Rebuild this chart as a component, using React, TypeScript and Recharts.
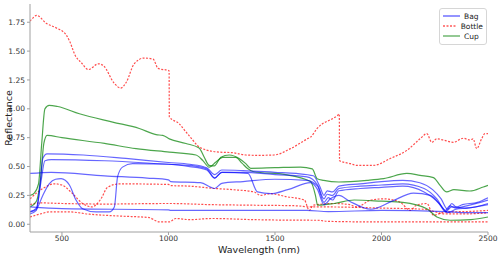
import { LineChart, Line, XAxis, YAxis } from "recharts";

type Pt = [number, number];

// wavelength (nm), reflectance
const bag1: Pt[] = [
  [350, 0.09], [380, 0.12], [395, 0.3], [410, 0.57], [430, 0.61], [600, 0.6], [800, 0.57],
  [1000, 0.535], [1100, 0.52], [1180, 0.49], [1217, 0.43], [1250, 0.47], [1350, 0.465],
  [1500, 0.45], [1600, 0.44], [1680, 0.42], [1710, 0.33], [1730, 0.25], [1745, 0.29],
  [1770, 0.28], [1800, 0.33], [1900, 0.35], [2000, 0.37], [2100, 0.38], [2180, 0.36],
  [2240, 0.3], [2280, 0.22], [2310, 0.13], [2330, 0.18], [2350, 0.15], [2380, 0.17],
  [2450, 0.19], [2500, 0.23],
];
const bag2: Pt[] = [
  [350, 0.11], [380, 0.14], [400, 0.35], [420, 0.55], [450, 0.56], [700, 0.55], [1000, 0.52],
  [1100, 0.51], [1180, 0.48], [1217, 0.4], [1250, 0.45], [1350, 0.45], [1500, 0.43],
  [1650, 0.41], [1700, 0.34], [1730, 0.22], [1745, 0.26], [1770, 0.25], [1800, 0.31],
  [1900, 0.33], [2000, 0.34], [2100, 0.35], [2200, 0.31], [2260, 0.22], [2300, 0.12],
  [2320, 0.16], [2350, 0.14], [2400, 0.16], [2500, 0.21],
];
const bag3: Pt[] = [
  [350, 0.44], [450, 0.45], [700, 0.42], [900, 0.4], [1000, 0.385], [1010, 0.37],
  [1150, 0.36], [1217, 0.31], [1250, 0.355], [1350, 0.37], [1500, 0.39], [1650, 0.38],
  [1700, 0.33], [1730, 0.19], [1750, 0.23], [1770, 0.21], [1800, 0.29], [1900, 0.31],
  [2000, 0.32], [2100, 0.33], [2200, 0.28], [2270, 0.18], [2300, 0.11], [2330, 0.15],
  [2400, 0.14], [2500, 0.18],
];
const bag4: Pt[] = [
  [350, 0.107], [380, 0.13], [410, 0.25], [440, 0.35], [470, 0.39], [496, 0.395], [535, 0.34],
  [566, 0.21], [597, 0.135], [660, 0.107], [722, 0.107], [746, 0.15], [761, 0.41],
  [784, 0.495], [831, 0.525], [1000, 0.52], [1100, 0.5], [1180, 0.47], [1217, 0.4],
  [1250, 0.45], [1373, 0.44], [1418, 0.28], [1480, 0.265], [1560, 0.3], [1667, 0.36],
  [1700, 0.3], [1730, 0.17], [1760, 0.22], [1800, 0.25], [1850, 0.2], [1950, 0.13],
  [2050, 0.2], [2150, 0.27], [2230, 0.25], [2280, 0.16], [2310, 0.1], [2350, 0.13],
  [2400, 0.14], [2500, 0.17],
];
const bag5: Pt[] = [
  [350, 0.15], [500, 0.135], [1000, 0.125], [1010, 0.12], [1500, 0.12], [1650, 0.12],
  [1750, 0.11], [2000, 0.12], [2300, 0.11], [2400, 0.1], [2500, 0.1],
];

const bottle1: Pt[] = [
  [350, 1.76], [360, 1.78], [381, 1.81], [427, 1.74], [474, 1.7], [520, 1.64], [535, 1.59],
  [563, 1.46], [591, 1.4], [624, 1.34], [671, 1.39], [694, 1.375], [746, 1.22], [775, 1.18],
  [802, 1.23], [839, 1.39], [886, 1.44], [928, 1.43], [951, 1.35], [1003, 1.33], [1004, 0.93],
  [1051, 0.87], [1082, 0.8], [1114, 0.73], [1137, 0.68], [1160, 0.655], [1238, 0.625],
  [1300, 0.62], [1363, 0.6], [1418, 0.597], [1495, 0.6], [1573, 0.655], [1652, 0.74],
  [1667, 0.755], [1698, 0.83], [1792, 0.94], [1802, 0.955], [1803, 0.55], [1854, 0.525],
  [1885, 0.51], [1963, 0.51], [2041, 0.57], [2119, 0.64], [2181, 0.74], [2213, 0.785],
  [2236, 0.71], [2260, 0.74], [2290, 0.73], [2337, 0.71], [2384, 0.745], [2415, 0.73],
  [2430, 0.74], [2447, 0.655], [2470, 0.74], [2485, 0.785], [2500, 0.785],
];
const bottle2: Pt[] = [
  [350, 0.22], [380, 0.27], [410, 0.31], [465, 0.35], [500, 0.34], [550, 0.265], [597, 0.18],
  [640, 0.15], [683, 0.22], [714, 0.32], [769, 0.35], [1000, 0.345], [1010, 0.335],
  [1100, 0.33], [1217, 0.31], [1300, 0.3], [1402, 0.28], [1433, 0.25], [1480, 0.265],
  [1550, 0.24], [1638, 0.21], [1661, 0.12], [1680, 0.165], [1778, 0.18], [1850, 0.17],
  [1885, 0.15], [1950, 0.21], [2012, 0.22], [2088, 0.19], [2135, 0.12], [2160, 0.16],
  [2213, 0.18], [2244, 0.078], [2300, 0.107], [2400, 0.11], [2500, 0.12],
];
const bottle3: Pt[] = [
  [350, 0.17], [400, 0.185], [500, 0.18], [700, 0.175], [1000, 0.18], [1200, 0.17],
  [1400, 0.165], [1600, 0.16], [1667, 0.15], [1750, 0.15], [2000, 0.14], [2200, 0.13],
  [2300, 0.09], [2400, 0.09], [2500, 0.1],
];
const bottle4: Pt[] = [
  [350, 0.063], [400, 0.09], [441, 0.107], [535, 0.107], [629, 0.087], [700, 0.078],
  [784, 0.07], [909, 0.058], [940, 0.03], [956, 0.02], [1003, 0.02], [1034, 0.05],
  [1100, 0.04], [1203, 0.05], [1400, 0.04], [1667, 0.035], [1700, 0.035], [1750, 0.025],
  [2000, 0.02], [2300, 0.02], [2500, 0.02],
];

const cup1: Pt[] = [
  [350, 0.25], [370, 0.27], [390, 0.35], [405, 0.7], [420, 1.0], [440, 1.03], [480, 1.02],
  [582, 0.957], [738, 0.885], [863, 0.83], [942, 0.776], [973, 0.77], [1004, 0.74],
  [1082, 0.7], [1144, 0.66], [1168, 0.58], [1191, 0.51], [1215, 0.505], [1246, 0.58],
  [1285, 0.6], [1332, 0.57], [1363, 0.525], [1386, 0.485], [1500, 0.49], [1620, 0.495],
  [1675, 0.48], [1698, 0.395], [1729, 0.38], [1800, 0.366], [1932, 0.38], [2010, 0.395],
  [2119, 0.44], [2181, 0.424], [2244, 0.404], [2275, 0.337], [2306, 0.28], [2340, 0.3],
  [2415, 0.288], [2478, 0.323], [2500, 0.337],
];
const cup2: Pt[] = [
  [350, 0.15], [380, 0.2], [400, 0.4], [415, 0.7], [430, 0.77], [500, 0.75], [700, 0.7],
  [848, 0.655], [1004, 0.625], [1129, 0.6], [1160, 0.555], [1191, 0.495], [1223, 0.54],
  [1254, 0.58], [1316, 0.58], [1345, 0.53], [1373, 0.48], [1400, 0.455], [1550, 0.43],
  [1667, 0.37], [1690, 0.25], [1700, 0.165], [1778, 0.18], [1872, 0.21], [2000, 0.2],
  [2100, 0.19], [2213, 0.135], [2260, 0.063], [2322, 0.035], [2420, 0.04], [2500, 0.063],
];

const xTicks = [500, 1000, 1500, 2000, 2500];
const yTicks = [0, 0.25, 0.5, 0.75, 1.0, 1.25, 1.5, 1.75];

const bags = [bag1, bag2, bag3, bag4, bag5];
const bottles = [bottle1, bottle2, bottle3, bottle4];
const cups = [cup1, cup2];

const toRows = (pts: Pt[]) => pts.map(([x, y]) => ({ x, y }));

const BLUE = "#0000ff";
const RED = "#ff0000";
const GREEN = "#008000";
const font = "'DejaVu Sans', sans-serif";

function LegendBox() {
  const items = [
    { name: "Bag", color: BLUE, dash: undefined },
    { name: "Bottle", color: RED, dash: "2 1.5" },
    { name: "Cup", color: GREEN, dash: undefined },
  ];
  return (
    <div
      style={{
        position: "absolute",
        left: 439,
        top: 8,
        width: 40,
        border: "1px solid #d6d6d6",
        borderRadius: 3,
        background: "rgba(255,255,255,0.85)",
        padding: "2px 3px",
        fontFamily: font,
        fontSize: 7.5,
        color: "#222",
      }}
    >
      {items.map((it) => (
        <div key={it.name} style={{ display: "flex", alignItems: "center", height: 10.2 }}>
          <svg width={17} height={6} style={{ marginRight: 4 }}>
            <line
              x1={0}
              y1={3}
              x2={17}
              y2={3}
              stroke={it.color}
              strokeOpacity={0.65}
              strokeWidth={1.3}
              strokeDasharray={it.dash}
            />
          </svg>
          <span>{it.name}</span>
        </div>
      ))}
    </div>
  );
}

export default function App() {
  return (
    <div style={{ position: "absolute", left: 0, top: 0, width: 500, height: 255, background: "#fff" }}>
      <LineChart width={500} height={255} margin={{ top: 4, right: 12, bottom: 0, left: 0 }}>
        <XAxis
          dataKey="x"
          type="number"
          domain={[350, 2500]}
          ticks={xTicks}
          allowDataOverflow
          height={23}
          stroke="#a0a0a0"
          tickSize={3}
          tick={{ fontSize: 7.5, fill: "#333", fontFamily: font, dy: -1.5 }}
          label={{ value: "Wavelength (nm)", position: "insideBottom", offset: 0, fontSize: 9.5, fill: "#222", fontFamily: font, dy: -2 }}
        />
        <YAxis
          type="number"
          domain={[-0.067, 1.908]}
          ticks={yTicks}
          allowDataOverflow
          width={30}
          stroke="#a0a0a0"
          tickSize={3}
          tickFormatter={(v: number) => v.toFixed(2)}
          tick={{ fontSize: 7.5, fill: "#333", fontFamily: font }}
          label={{ value: "Reflectance", angle: -90, position: "insideLeft", offset: 0, fontSize: 9.5, fill: "#222", fontFamily: font, dx: 9, style: { textAnchor: "middle" } }}
        />
        {/* right and top frame lines */}
        <XAxis xAxisId="top" orientation="top" type="number" domain={[350, 2500]} tick={false} tickLine={false} height={0} stroke="#a0a0a0" />
        <YAxis yAxisId="right" orientation="right" tick={false} tickLine={false} width={0} stroke="#a0a0a0" />
        {bottles.map((d, i) => (
          <Line
            key={"bottle" + i}
            data={toRows(d)}
            dataKey="y"
            type="monotone"
            stroke={RED}
            strokeOpacity={0.7}
            strokeWidth={1.2}
            strokeDasharray="2 1.5"
            dot={false}
            isAnimationActive={false}
            legendType="none"
          />
        ))}
        {cups.map((d, i) => (
          <Line
            key={"cup" + i}
            data={toRows(d)}
            dataKey="y"
            type="monotone"
            stroke={GREEN}
            strokeOpacity={0.7}
            strokeWidth={1.2}
            dot={false}
            isAnimationActive={false}
            legendType="none"
          />
        ))}
        {bags.map((d, i) => (
          <Line
            key={"bag" + i}
            data={toRows(d)}
            dataKey="y"
            type="monotone"
            stroke={BLUE}
            strokeOpacity={0.6}
            strokeWidth={1.2}
            dot={false}
            isAnimationActive={false}
            legendType="none"
          />
        ))}
      </LineChart>
      <LegendBox />
    </div>
  );
}
